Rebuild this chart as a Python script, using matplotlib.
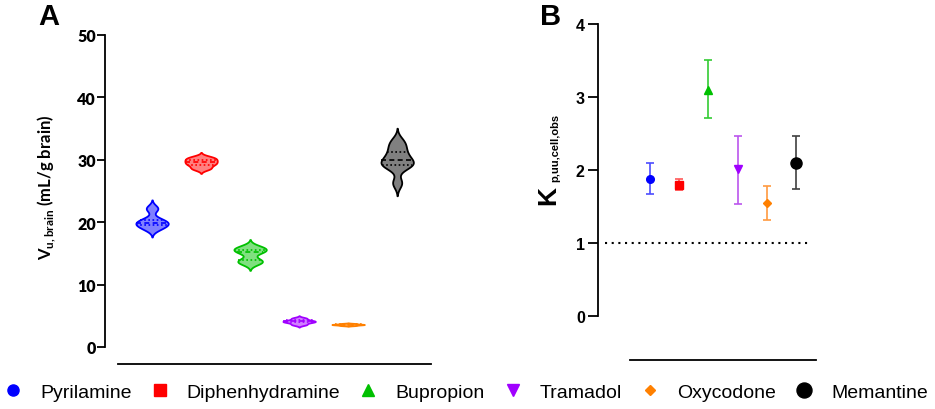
import numpy as np
import matplotlib
matplotlib.use("Agg")
import matplotlib.pyplot as plt
from matplotlib.lines import Line2D

# ---- data ----
drugs = ["Pyrilamine", "Diphenhydramine", "Bupropion", "Tramadol", "Oxycodone", "Memantine"]

# panel A: Vu,brain replicates (mL/g brain)
vu_pyrilamine = [19.0, 19.6, 19.9, 20.4, 22.2]
vu_diphenhydramine = [28.6, 29.2, 29.6, 30.0, 30.4]
vu_bupropion = [13.5, 13.9, 15.2, 15.6, 16.0]
vu_tramadol = [3.6, 3.95, 4.1, 4.25, 4.6]
vu_oxycodone = [3.45, 3.55, 3.6, 3.65, 3.75]
vu_memantine = [26.3, 28.9, 29.2, 29.6, 30.2, 31.0, 32.0, 33.0]

# panel B: Kp,uu,cell,obs mean and error limits
kp_mean = [1.88, 1.80, 3.10, 2.02, 1.55, 2.10]
kp_low = [1.67, 1.73, 2.71, 1.54, 1.31, 1.74]
kp_high = [2.09, 1.87, 3.51, 2.47, 1.78, 2.47]

# ---- style ----
edge_cols = ["#0000ff", "#ff0000", "#00c000", "#a000ff", "#ff8000", "#000000"]
fill_cols = ["#8080ff", "#ff8080", "#80e080", "#d080ff", "#ffb060", "#808080"]
bar_cols = ["#4d4dff", "#ff5959", "#33cc33", "#bb55ee", "#ff9a40", "#404040"]
markers = ["o", "s", "^", "v", "D", "o"]
msizes = [5.5, 6, 5.6, 5.6, 4, 8]
leg_sizes = [8, 8.3, 8.6, 8.6, 5.6, 10.8]

plt.rcParams["mathtext.fontset"] = "custom"
plt.rcParams["mathtext.bf"] = "Lato:bold"
plt.rcParams["mathtext.rm"] = "Lato:bold"

fig = plt.figure(figsize=(9.35, 4.1), dpi=100)

# ---- panel A ----
axA = fig.add_axes([105 / 935, 62 / 410, 326 / 935, 312 / 410])
vu_data = [vu_pyrilamine, vu_diphenhydramine, vu_bupropion, vu_tramadol, vu_oxycodone, vu_memantine]
half_w = 0.33
for i, vals in enumerate(vu_data):
    v = np.array(vals)
    bw = 0.4 * v.std(ddof=1) if i == 5 else 0.45 * v.std(ddof=1)
    ys = np.linspace(v.min() - 2.5 * bw, v.max() + 2.5 * bw, 300)
    dens = np.exp(-0.5 * ((ys[:, None] - v[None, :]) / bw) ** 2).sum(axis=1)
    w = dens / dens.max() * half_w
    axA.fill_betweenx(ys, i - w, i + w, facecolor=fill_cols[i], edgecolor=edge_cols[i], linewidth=1.3, zorder=2)
    q1, med, q3 = np.percentile(v, [25, 50, 75])
    for q, ls in [(q1, (0, (1, 1.5))), (med, (0, (3, 2))), (q3, (0, (1, 1.5)))]:
        hw = np.interp(q, ys, w)
        axA.plot([i - hw, i + hw], [q, q], color=edge_cols[i], lw=1.2, ls=ls, zorder=3)

axA.set_xlim(-0.96, 5.69)
axA.set_ylim(0, 50)
axA.set_yticks(range(0, 51, 10))
axA.set_xticks([])
for s in ["top", "right"]:
    axA.spines[s].set_visible(False)
axA.spines["bottom"].set_position(("outward", 12))
axA.spines["bottom"].set_bounds(-0.69, 5.69)
axA.spines["bottom"].set_linewidth(1.3)
axA.spines["left"].set_linewidth(1.3)
axA.tick_params(axis="y", length=5.5, width=1.3, labelsize=11.5, pad=1)
for t in axA.get_yticklabels():
    t.set_fontfamily("Lato")
    t.set_fontweight("heavy")
fig.text(47 / 935, 1 - 187 / 410, r"$\mathbf{V}_{\mathbf{u,brain}}$ (mL/g brain)", rotation=90,
         ha="center", va="center", fontsize=12, family="Lato", weight="bold")
fig.text(38 / 935, 1 - 3 / 410, "A", ha="left", va="top", fontsize=21, family="Liberation Sans", weight="bold")

# ---- panel B ----
axB = fig.add_axes([598 / 935, 93 / 410, 218 / 935, 292 / 410])
for i in range(len(drugs)):
    axB.errorbar(i, kp_mean[i], yerr=[[kp_mean[i] - kp_low[i]], [kp_high[i] - kp_mean[i]]],
                 fmt="none", ecolor=bar_cols[i], elinewidth=1.2, capsize=3, capthick=1.2, zorder=2)
    axB.plot(i, kp_mean[i], marker=markers[i], ms=msizes[i], color=edge_cols[i], mec=edge_cols[i], zorder=3)
axB.plot([-1.54, 5.5], [1, 1], color="black", lw=1.5, ls=(0, (1, 2.2)), zorder=1)
axB.set_xlim(-1.775, 5.68)
axB.set_ylim(0, 4)
axB.set_yticks(range(0, 5))
axB.set_xticks([])
for s in ["top", "right"]:
    axB.spines[s].set_visible(False)
axB.spines["bottom"].set_position(("outward", 32))
axB.spines["bottom"].set_bounds(-0.68, 5.68)
axB.spines["bottom"].set_linewidth(1.3)
axB.spines["left"].set_linewidth(1.3)
axB.tick_params(axis="y", length=7, width=1.3, labelsize=11.5, pad=2.5)
for t in axB.get_yticklabels():
    t.set_fontfamily("Liberation Sans")
    t.set_fontweight("bold")
fig.text(560 / 935, 1 - 205 / 410, "K", rotation=90, ha="right", va="bottom", fontsize=19,
         family="Liberation Sans", weight="bold")
fig.text(560 / 935, 1 - 182 / 410, "p,uu,cell,obs", rotation=90, ha="right", va="bottom", fontsize=8,
         family="Liberation Sans", weight="bold")
fig.text(540 / 935, 1 - 3 / 410, "B", ha="left", va="top", fontsize=21, family="Liberation Sans", weight="bold")

# ---- legend ----
handles = [Line2D([], [], ls="none", marker=markers[i], color=edge_cols[i], ms=leg_sizes[i])
           for i in range(len(drugs))]
fig.legend(handles, drugs, loc="center", bbox_to_anchor=(0.498, 1 - 393 / 410), ncol=6, frameon=False,
           prop={"family": "Liberation Sans", "size": 14}, handlelength=1.0, handletextpad=0.89,
           columnspacing=0.94, borderaxespad=0, borderpad=0)

fig.savefig("out.png", dpi=100)
